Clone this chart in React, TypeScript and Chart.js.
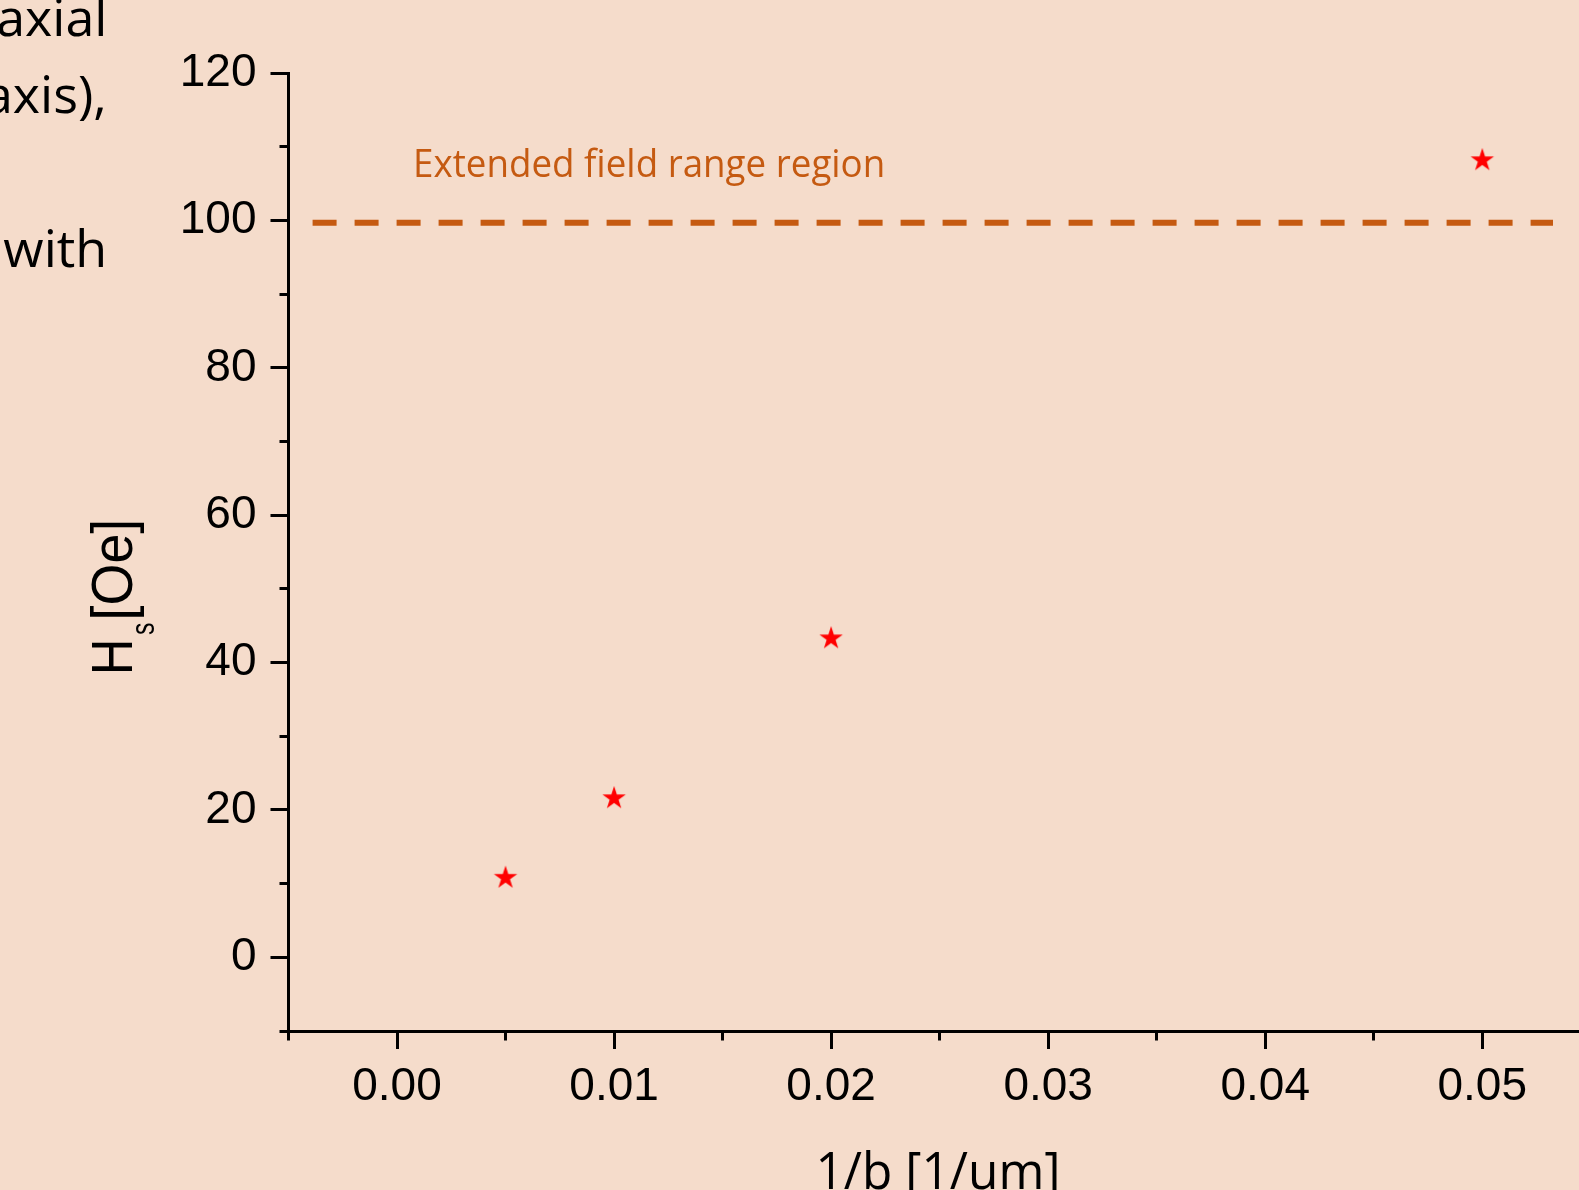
import React, { useEffect, useRef } from 'react';
import { Chart, registerables } from 'chart.js';

Chart.register(...registerables);

// ---- data ----
const xValues = [0.005, 0.01, 0.02, 0.05];
const hsValues = [10.8, 21.6, 43.3, 108.2];
const limitLineX = [-0.00389, 0.05326];
const limitLineY = [99.7, 99.7];
const xMajorTicks = [0, 0.01, 0.02, 0.03, 0.04, 0.05];
const xMinorTicks = [-0.005, 0.005, 0.015, 0.025, 0.035, 0.045];
const yMajorTicks = [0, 20, 40, 60, 80, 100, 120];
const yMinorTicks = [-10, 10, 30, 50, 70, 90, 110];
const xRange = [-0.005, 0.054457];
const yRange = [-10, 120];
const sideTextLines = ['axial', 'axis),', 'with'];
const annotationText = 'Extended field range region';
const xTitle = '1/b [1/um]';
const yTitleParts = ['H', 's', '[Oe]'];

// ---- styles ----
const BG = '#F5DCCB';
const ORANGE = '#C55A11';
const TICK_FONT = '"Liberation Sans", Arial, sans-serif';
const TEXT_FONT = '"Open Sans", "Noto Sans", sans-serif';

function makeStar(): HTMLCanvasElement {
  const c = document.createElement('canvas');
  c.width = 28;
  c.height = 28;
  const g = c.getContext('2d')!;
  const R = 12.3;
  const r = R * 0.382;
  g.beginPath();
  for (let i = 0; i < 10; i++) {
    const rad = i % 2 === 0 ? R : r;
    const a = -Math.PI / 2 + (i * Math.PI) / 5;
    const px = 14 + rad * Math.cos(a);
    const py = 14 + rad * Math.sin(a);
    if (i === 0) g.moveTo(px, py);
    else g.lineTo(px, py);
  }
  g.closePath();
  g.fillStyle = '#FF0000';
  g.fill();
  return c;
}

function drawFit(
  ctx: CanvasRenderingContext2D,
  text: string,
  font: string,
  color: string,
  inkLeft: number,
  baseline: number,
  inkWidth: number
) {
  ctx.save();
  ctx.font = font;
  ctx.fillStyle = color;
  ctx.textAlign = 'left';
  ctx.textBaseline = 'alphabetic';
  const m = ctx.measureText(text);
  const w = m.actualBoundingBoxLeft + m.actualBoundingBoxRight;
  const sx = w > 0 ? inkWidth / w : 1;
  ctx.translate(inkLeft, baseline);
  ctx.scale(sx, 1);
  ctx.fillText(text, m.actualBoundingBoxLeft, 0);
  ctx.restore();
}

const bgPlugin = {
  id: 'bgFill',
  beforeDraw(chart: any) {
    const { ctx, width, height } = chart;
    ctx.save();
    ctx.fillStyle = BG;
    ctx.fillRect(0, 0, width, height);
    ctx.restore();
  },
};

const align3 = (p: number) => Math.round(p - 1.5) + 1.5;

const decorPlugin = {
  id: 'decor',
  afterDraw(chart: any) {
    const ctx: CanvasRenderingContext2D = chart.ctx;
    const xs = chart.scales.x;
    const ys = chart.scales.y;
    const area = chart.chartArea;

    // minor ticks
    ctx.save();
    ctx.strokeStyle = '#000';
    ctx.lineWidth = 3;
    ctx.lineCap = 'butt';
    const axisY = align3(area.bottom);
    xMinorTicks.forEach((v) => {
      const px = align3(xs.getPixelForValue(v));
      ctx.beginPath();
      ctx.moveTo(px, axisY - 1.5);
      ctx.lineTo(px, axisY + 9);
      ctx.stroke();
    });
    const axisX = align3(area.left);
    yMinorTicks.forEach((v) => {
      const py = align3(ys.getPixelForValue(v));
      ctx.beginPath();
      ctx.moveTo(axisX + 1.5, py);
      ctx.lineTo(axisX - 9, py);
      ctx.stroke();
    });
    ctx.restore();

    // side text (cut off slide text)
    const sideBaselines = [36, 112.7, 266.7];
    ctx.save();
    ctx.font = `52px ${TEXT_FONT}`;
    ctx.fillStyle = '#000';
    ctx.textAlign = 'left';
    ctx.textBaseline = 'alphabetic';
    sideTextLines.forEach((t, i) => {
      const m = ctx.measureText(t);
      ctx.fillText(t, 103.3 - m.actualBoundingBoxRight, sideBaselines[i]);
    });
    ctx.restore();

    // annotation
    drawFit(ctx, annotationText, `38px ${TEXT_FONT}`, ORANGE, 416, 177.3, 467);

    // x title
    drawFit(ctx, xTitle, `52px ${TEXT_FONT}`, '#000', 819.3, 1189.4, 237.4);

    // y title (rotated, with subscript)
    ctx.save();
    ctx.translate(131.7, 671.7);
    ctx.rotate(-Math.PI / 2);
    drawFit(ctx, yTitleParts[0], `57px ${TICK_FONT}`, '#000', 0, 0, 29.4);
    drawFit(ctx, yTitleParts[1], `34px ${TICK_FONT}`, '#000', 36.7, 22.3, 11.7);
    drawFit(ctx, yTitleParts[2], `57px ${TICK_FONT}`, '#000', 55, 0, 94.4);
    ctx.restore();
  },
};

export default function App() {
  const ref = useRef<HTMLCanvasElement>(null);

  useEffect(() => {
    document.body.style.margin = '0';
    document.body.style.background = BG;
    let chart: Chart | null = null;
    let cancelled = false;
    const star = makeStar();

    const build = () => {
      if (cancelled || !ref.current) return;
      chart = new Chart(ref.current, {
        type: 'scatter',
        data: {
          datasets: [
            {
              data: limitLineX.map((x, i) => ({ x, y: limitLineY[i] })),
              showLine: true,
              borderColor: ORANGE,
              backgroundColor: ORANGE,
              borderWidth: 6,
              borderDash: [24, 18],
              borderCapStyle: 'butt',
              pointRadius: 0,
              fill: false,
              order: 2,
            } as any,
            {
              data: xValues.map((x, i) => ({ x, y: hsValues[i] })),
              pointStyle: star as any,
              pointRadius: 12,
              showLine: false,
              order: 1,
            } as any,
          ],
        },
        options: {
          animation: false,
          responsive: false,
          maintainAspectRatio: false,
          events: [],
          layout: { autoPadding: false, padding: { top: 73.3, left: 0, right: 0, bottom: 0 } },
          plugins: {
            legend: { display: false },
            tooltip: { enabled: false },
          },
          scales: {
            x: {
              type: 'linear',
              min: xRange[0],
              max: xRange[1],
              afterBuildTicks: (s: any) => {
                s.ticks = xMajorTicks.map((v) => ({ value: v }));
              },
              afterFit: (s: any) => {
                s.height = 159;
                s.paddingLeft = 0;
                s.paddingRight = 0;
              },
              border: { display: true, color: '#000', width: 3 },
              grid: {
                drawOnChartArea: false,
                drawTicks: true,
                tickLength: 18,
                tickWidth: 3,
                tickColor: '#000',
                color: '#000',
                lineWidth: 3,
              },
              ticks: {
                font: { family: TICK_FONT, size: 46 },
                color: '#000',
                padding: 11,
                maxRotation: 0,
                autoSkip: false,
                callback: (v: any) => Number(v).toFixed(2),
              },
            },
            y: {
              type: 'linear',
              min: yRange[0],
              max: yRange[1],
              afterBuildTicks: (s: any) => {
                s.ticks = yMajorTicks.map((v) => ({ value: v }));
              },
              afterFit: (s: any) => {
                s.width = 288.5;
                s.paddingTop = 0;
                s.paddingBottom = 0;
              },
              border: { display: true, color: '#000', width: 3 },
              grid: {
                drawOnChartArea: false,
                drawTicks: true,
                tickLength: 18,
                tickWidth: 3,
                tickColor: '#000',
                color: '#000',
                lineWidth: 3,
              },
              ticks: {
                font: { family: TICK_FONT, size: 46 },
                color: '#000',
                padding: 14,
                autoSkip: false,
                callback: (v: any) => String(v),
              },
            },
          },
        },
        plugins: [bgPlugin, decorPlugin],
      });
    };

    const fontsApi = (document as any).fonts;
    const p = fontsApi
      ? Promise.all([
          fontsApi.load(`46px ${TICK_FONT}`),
          fontsApi.load(`52px ${TEXT_FONT}`),
        ])
      : Promise.resolve();
    p.catch(() => undefined).then(build);

    return () => {
      cancelled = true;
      if (chart) chart.destroy();
    };
  }, []);

  return (
    <div style={{ position: 'absolute', left: 0, top: 0, width: 1579, height: 1190, overflow: 'hidden' }}>
      <canvas ref={ref} width={1579} height={1190} style={{ display: 'block', width: 1579, height: 1190 }} />
    </div>
  );
}
